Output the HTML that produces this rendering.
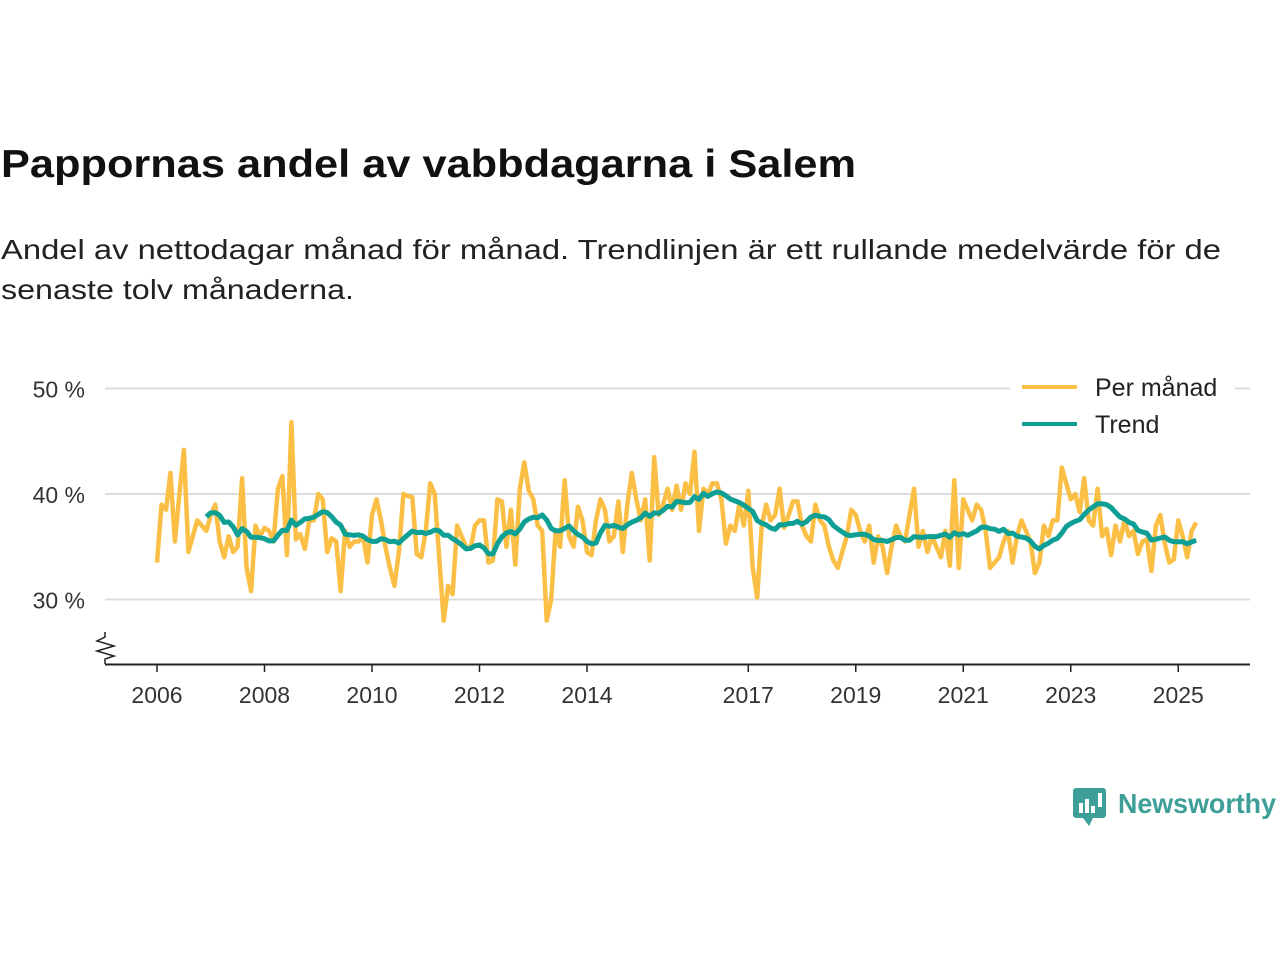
<!DOCTYPE html>
<html><head><meta charset="utf-8"><style>
body{margin:0;background:#fff;}
svg{display:block;font-family:"Liberation Sans",sans-serif;}
</style></head><body>
<svg id="chart" width="1280" height="960" viewBox="0 0 1280 960">
<text x="1" y="177" font-size="39" font-weight="bold" fill="#111" textLength="855" lengthAdjust="spacingAndGlyphs">Pappornas andel av vabbdagarna i Salem</text>
<text x="1" y="259" font-size="28" fill="#222" textLength="1220" lengthAdjust="spacingAndGlyphs">Andel av nettodagar månad för månad. Trendlinjen är ett rullande medelvärde för de</text>
<text x="1" y="299" font-size="28" fill="#222" textLength="353" lengthAdjust="spacingAndGlyphs">senaste tolv månaderna.</text>
<g id="grid"></g>
<g id="yticks"></g>
<g id="xaxis">
<line x1="105" y1="664.5" x2="1250" y2="664.5" stroke="#222" stroke-width="2"/>
<polyline points="105,632 105,637 97,641 114,646 97,651 114,656 105,659 105,664" fill="none" stroke="#222" stroke-width="1.5"/>
</g>
<g id="series"></g>
<g>
<rect x="1010" y="368" width="225" height="70" fill="#fff"/>
<line x1="1022" y1="387" x2="1077" y2="387" stroke="#fbbf45" stroke-width="4"/>
<text x="1095" y="396" font-size="25" fill="#222">Per månad</text>
<line x1="1022" y1="424" x2="1077" y2="424" stroke="#0e9f95" stroke-width="4"/>
<text x="1095" y="433" font-size="25" fill="#222">Trend</text>
</g>
<g>
<rect x="1073" y="788" width="33" height="30" rx="3" fill="#3d9f97"/>
<polygon points="1083,818 1093,818 1089,826" fill="#3d9f97"/>
<rect x="1079" y="803" width="4" height="10" fill="#fff"/><rect x="1085" y="799" width="4" height="14" fill="#fff"/><rect x="1091" y="806" width="4" height="7" fill="#fff"/><rect x="1098" y="793" width="4" height="14" fill="#fff"/>
<text x="1118" y="813" font-size="28" font-weight="bold" fill="#3d9f97" textLength="158" lengthAdjust="spacingAndGlyphs">Newsworthy</text>
</g>
</svg>
<script>
const monthly = [
33.5,39,38.5,42,35.5,40,44.2,34.5,36,37.5,37,36.5,
38,39,35.5,34,36,34.5,35,41.5,33,30.8,37,36,
36.8,36.5,35.5,40.5,41.7,34.2,46.8,35.7,36.2,34.8,37.5,37.5,
40,39.5,34.5,35.8,35.5,30.8,36.5,35,35.5,35.5,36,33.5,
38,39.5,37.5,35,33,31.3,34.5,40,39.8,39.7,34.3,34,
36.5,41,40,34,28,31.3,30.5,37,36,35,34.8,37,
37.5,37.5,33.5,33.7,39.5,39.3,35,38.5,33.3,40.5,43,40.3,
39.5,37,36.5,28,30,36.5,35,41.3,36,35,38.8,37.5,
34.5,34.2,37.5,39.5,38.5,35.5,36,39.3,34.5,39,42,39.5,
37.5,39.5,33.7,43.5,38,39,40.5,38.5,40.8,38.5,41,40,
44,36.5,40.5,40,41,41,39.5,35.3,37,36.5,39,37,
40.3,33,30.2,37,39,37.5,38,40.5,36.8,38,39.3,39.3,
37,36,35.5,39,37.5,37,35,33.7,33,34.5,36,38.5,
38,36.5,35.5,37,33.5,36,35,32.5,35,37,36,35.5,
38,40.5,35,36.5,34.5,36,35,34,36.5,33.2,41.3,33,
39.5,38.5,37.5,39,38.5,36.5,33,33.5,34,35.5,36.5,33.5,
36,37.5,36.5,35.5,32.5,33.5,37,36,37.5,37.5,42.5,41,
39.5,40,38.3,41.5,37.5,37,40.5,36,36.7,34.2,37,35.5,
37.5,36,36.5,34.3,35.5,35.7,32.7,37,38,35.3,33.5,33.8,
37.5,36,34,36.5,37.3];
const startYear = 2006;
const yTicks = [30,40,50];
const xTickYears = [2006,2008,2010,2012,2014,2017,2019,2021,2023,2025];
const x = t => 157 + (t - 2006) * 53.75;
const y = v => 494 - (v - 40) * 10.55;
const NS = 'http://www.w3.org/2000/svg';
function mk(tag, attrs, parent){const e=document.createElementNS(NS,tag);for(const k in attrs)e.setAttribute(k,attrs[k]);parent.appendChild(e);return e;}
const grid=document.getElementById('grid'), yt=document.getElementById('yticks'), xa=document.getElementById('xaxis'), se=document.getElementById('series');
yTicks.forEach(v=>{
  const l=mk('line',{x1:105,x2:1250,y1:y(v),y2:y(v),stroke:'#dcdcdc','stroke-width':2},grid);
  
  
  const t=mk('text',{x:85,y:y(v)+9,'font-size':23,fill:'#333','text-anchor':'end'},yt);
  t.textContent=v+' %';
  
  
});
xTickYears.forEach(yr=>{
  const tk=mk('line',{x1:x(yr),x2:x(yr),y1:664,y2:672,stroke:'#222','stroke-width':1.5},xa);
  
  
  const t=mk('text',{x:x(yr),y:703,'font-size':23,fill:'#333','text-anchor':'middle'},xa);
  t.textContent=yr;
  
  
});
const tOf=i=>startYear+i/12;
const mp=monthly.map((v,i)=>x(tOf(i)).toFixed(1)+','+y(v).toFixed(1)).join(' ');
const l1=mk('polyline',{points:mp,fill:'none',stroke:'#fbbf45','stroke-width':4.5,'stroke-linejoin':'round'},se);


const trend=[];
for(let i=11;i<monthly.length;i++){let s=0;for(let j=i-11;j<=i;j++)s+=monthly[j];trend.push([i,s/12]);}
const tp=trend.map(([i,v])=>x(tOf(i)).toFixed(1)+','+y(v).toFixed(1)).join(' ');
const l2=mk('polyline',{points:tp,fill:'none',stroke:'#0e9f95','stroke-width':5,'stroke-linejoin':'round'},se);


</script>
</body></html>
